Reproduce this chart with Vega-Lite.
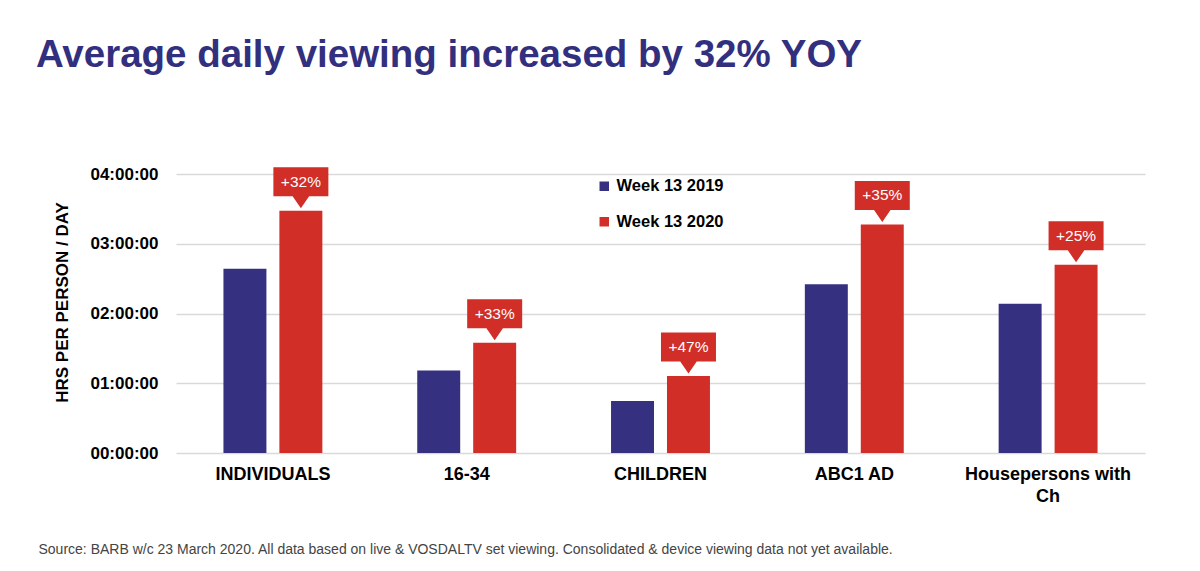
{
  "$schema": "https://vega.github.io/schema/vega-lite/v6.json",
  "width": 969,
  "height": 279,
  "autosize": "none",
  "padding": {"left": 176, "top": 174, "right": 55, "bottom": 118},
  "background": "white",
  "config": {"view": {"stroke": null}},
  "title": {
    "text": "Average daily viewing increased by 32% YOY",
    "anchor": "start",
    "frame": "group",
    "dx": -140,
    "offset": 90,
    "font": "Liberation Sans",
    "fontSize": 38.5,
    "fontWeight": "bold",
    "color": "#332F7F"
  },
  "data": {
    "values": [
      {"category": "INDIVIDUALS", "series": "Week 13 2019", "hours": 2.643, "label": null},
      {"category": "INDIVIDUALS", "series": "Week 13 2020", "hours": 3.473, "label": "+32%"},
      {"category": "16-34", "series": "Week 13 2019", "hours": 1.182, "label": null},
      {"category": "16-34", "series": "Week 13 2020", "hours": 1.581, "label": "+33%"},
      {"category": "CHILDREN", "series": "Week 13 2019", "hours": 0.745, "label": null},
      {"category": "CHILDREN", "series": "Week 13 2020", "hours": 1.105, "label": "+47%"},
      {"category": "ABC1 AD", "series": "Week 13 2019", "hours": 2.421, "label": null},
      {"category": "ABC1 AD", "series": "Week 13 2020", "hours": 3.277, "label": "+35%"},
      {"category": "Housepersons with Ch", "series": "Week 13 2019", "hours": 2.138, "label": null},
      {"category": "Housepersons with Ch", "series": "Week 13 2020", "hours": 2.70, "label": "+25%"}
    ]
  },
  "encoding": {
    "x": {
      "field": "category",
      "type": "nominal",
      "sort": null,
      "scale": {"paddingInner": 0, "paddingOuter": 0},
      "axis": {
        "title": "Source: BARB w/c 23 March 2020. All data based on live & VOSDALTV set viewing. Consolidated & device viewing data not yet available.",
        "titleX": -138,
        "titleY": 96,
        "titleAlign": "left",
        "titleAnchor": "start",
        "titleBaseline": "middle",
        "titleFont": "Liberation Sans",
        "titleFontSize": 14,
        "titleFontWeight": "normal",
        "titleColor": "#444444",
        "labelAngle": 0,
        "labelFont": "Liberation Sans",
        "labelFontSize": 18,
        "labelFontWeight": "bold",
        "labelColor": "#000000",
        "labelPadding": 12,
        "labelLimit": 0,
        "labelLineHeight": 22,
        "labelExpr": "datum.value == 'Housepersons with Ch' ? ['Housepersons with', 'Ch'] : datum.value",
        "ticks": false,
        "domain": false
      }
    },
    "xOffset": {
      "field": "series",
      "type": "nominal",
      "scale": {"paddingInner": 0.232, "paddingOuter": 0.848}
    },
    "y": {
      "field": "hours",
      "type": "quantitative",
      "scale": {"domain": [0, 4], "nice": false},
      "axis": {
        "title": "HRS PER PERSON / DAY",
        "titleFont": "Liberation Sans",
        "titleFontSize": 17,
        "titleFontWeight": "bold",
        "titleColor": "#000000",
        "titlePadding": 18,
        "titleY": 128,
        "values": [0, 1, 2, 3, 4],
        "labelExpr": "'0' + datum.value + ':00:00'",
        "labelFont": "Liberation Sans",
        "labelFontSize": 17,
        "labelFontWeight": "bold",
        "labelColor": "#000000",
        "labelPadding": 18,
        "ticks": false,
        "domain": false,
        "grid": true,
        "gridColor": "#D9D9D9",
        "gridWidth": 1.5
      }
    }
  },
  "layer": [
    {
      "mark": {"type": "bar"},
      "encoding": {
        "color": {
          "field": "series",
          "type": "nominal",
          "scale": {"domain": ["Week 13 2019", "Week 13 2020"], "range": ["#35307F", "#D02E27"]},
          "legend": {
            "title": null,
            "orient": "none",
            "legendX": 420,
            "legendY": 4,
            "padding": 0,
            "symbolType": "square",
            "symbolSize": 90,
            "symbolStrokeWidth": 0,
            "labelFont": "Liberation Sans",
            "labelFontSize": 16.5,
            "labelFontWeight": "bold",
            "labelColor": "#000000",
            "labelOffset": 4,
            "rowPadding": 18.5
          }
        }
      }
    },
    {
      "transform": [{"filter": "datum.label != null"}],
      "mark": {
        "type": "point",
        "filled": true,
        "opacity": 1,
        "color": "#D02E27",
        "size": 3025,
        "shape": "M -1 -1.578 L 1 -1.578 L 1 -0.524 L 0.3 -0.524 L 0 -0.087 L -0.3 -0.524 L -1 -0.524 Z"
      },
      "encoding": {}
    },
    {
      "transform": [{"filter": "datum.label != null"}],
      "mark": {
        "type": "text",
        "color": "#FFFFFF",
        "font": "Liberation Sans",
        "fontSize": 15.5,
        "baseline": "middle",
        "align": "center",
        "dy": -29
      },
      "encoding": {"text": {"field": "label"}}
    }
  ]
}
